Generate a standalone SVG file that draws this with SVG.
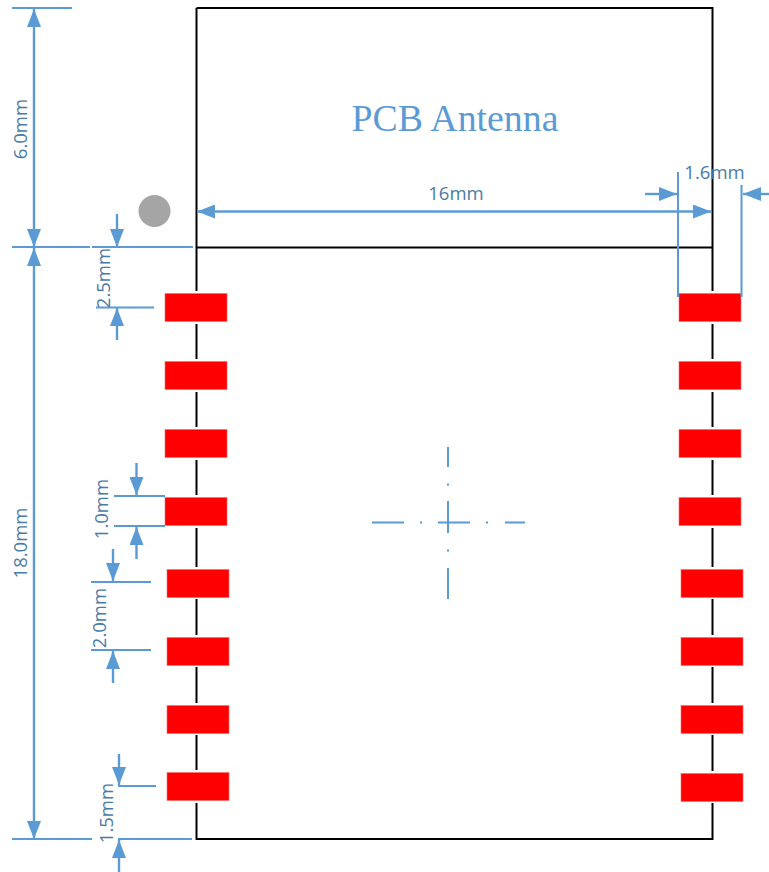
<svg xmlns="http://www.w3.org/2000/svg" width="769" height="872" viewBox="0 0 769 872">
<style>
.b{stroke:#000;stroke-width:2;fill:none}
.p{fill:#f00;stroke:#ff6a6a;stroke-width:.6}
.t{stroke:#5b9bd5;stroke-width:2;fill:none}
.a{stroke:#5b9bd5;stroke-width:2.4;fill:none;marker-end:url(#ah)}
.c{stroke:#5b9bd5;stroke-width:2;fill:none}
.l{font-family:"Open Sans","Noto Sans",sans-serif;font-size:18.500px;fill:#4a7ba7}
</style>
<defs>
<marker id="ah" markerUnits="userSpaceOnUse" markerWidth="19" markerHeight="14" refX="18" refY="7" orient="auto"><path d="M0 0L18 7L0 14Z" fill="#5b9bd5"/></marker>
</defs>
<rect width="769" height="872" fill="#fff"/>
<g id="body">
<path class="b" d="M196.5 8H712.5V291M196.5 8V291M196.5 247.500H712.5M196.500 324V359M196.500 392V427M196.500 460V495M196.500 528V567M196.500 599V635M196.500 667V703M196.500 735V770M196.500 803V839H712.5V803M712.500 324V359M712.500 392V427M712.500 460V495M712.500 528V567M712.500 599V635M712.500 667V703M712.500 735V771"/>
</g>
<g id="antenna-label"><text x="455" y="131" text-anchor="middle" font-family="'Liberation Serif',serif" font-size="37.800" fill="#5b9bd5">PCB Antenna</text></g>
<g id="pin1-dot"><circle cx="154.500" cy="211" r="16" fill="#a5a5a5"/></g>
<g id="pads-left">
<rect class="p" x="165" y="293.500" width="62" height="28"/>
<rect class="p" x="165" y="361.500" width="62" height="28"/>
<rect class="p" x="165" y="429.500" width="62" height="28"/>
<rect class="p" x="165" y="497.500" width="62" height="28"/>
<rect class="p" x="167" y="569.500" width="62" height="28"/>
<rect class="p" x="167" y="637.500" width="62" height="28"/>
<rect class="p" x="167" y="705.500" width="62" height="28"/>
<rect class="p" x="167" y="772.500" width="62" height="28"/>
</g>
<g id="pads-right">
<rect class="p" x="679" y="293.500" width="62" height="28"/>
<rect class="p" x="679" y="361.500" width="62" height="28"/>
<rect class="p" x="679" y="429.500" width="62" height="28"/>
<rect class="p" x="679" y="497.500" width="62" height="28"/>
<rect class="p" x="681" y="569.500" width="62" height="28"/>
<rect class="p" x="681" y="637.500" width="62" height="28"/>
<rect class="p" x="681" y="705.500" width="62" height="28"/>
<rect class="p" x="681" y="773.500" width="62" height="28"/>
</g>
<g id="connectors">
<path class="t" d="M12 8H72M12 247H90M92 247H193M12 839H92M118 839H192"/>
<path class="t" d="M96 307.500H154M114 496H165M114 526H165M91 582H151M91 650H151M118 786H156"/>
<path class="t" d="M678 172V297M741.500 185V297"/>
<path class="a" d="M34 128V9"/><path class="a" d="M34 128V247"/>
<path class="a" d="M34 540V248"/><path class="a" d="M34 540V839"/>
<path class="a" d="M454 211.500H197"/><path class="a" d="M454 211.500H711"/>
<path class="a" d="M645 194H677"/><path class="a" d="M769 194H743"/>
<path class="a" d="M117 214V247"/><path class="a" d="M117 340V308"/>
<path class="a" d="M136.500 463V495"/><path class="a" d="M136.500 559V527"/>
<path class="a" d="M113 549V581"/><path class="a" d="M113 683V651"/>
<path class="a" d="M119 754V785"/><path class="a" d="M119 872V840"/>
<path class="c" d="M448 447V467M448 501V533M448 568V599M372 522.500H404M438 522.500H470M505 522.500H525"/>
<path class="c" d="M448 483.500V485.500M448 549.500V551.500M420 522.500H422M486 522.500H488"/>
</g>
<g id="labels">
<text class="l" x="456" y="199.500" text-anchor="middle">16mm</text>
<text class="l" x="714.500" y="179" text-anchor="middle">1.6mm</text>
<text class="l" transform="translate(27 129) rotate(-90)" text-anchor="middle">6.0mm</text>
<text class="l" transform="translate(27 543) rotate(-90)" text-anchor="middle">18.0mm</text>
<text class="l" transform="translate(110 278) rotate(-90)" text-anchor="middle">2.5mm</text>
<text class="l" transform="translate(108 509) rotate(-90)" text-anchor="middle">1.0mm</text>
<text class="l" transform="translate(106 618) rotate(-90)" text-anchor="middle">2.0mm</text>
<text class="l" transform="translate(113 813) rotate(-90)" text-anchor="middle">1.5mm</text>
</g>
</svg>
